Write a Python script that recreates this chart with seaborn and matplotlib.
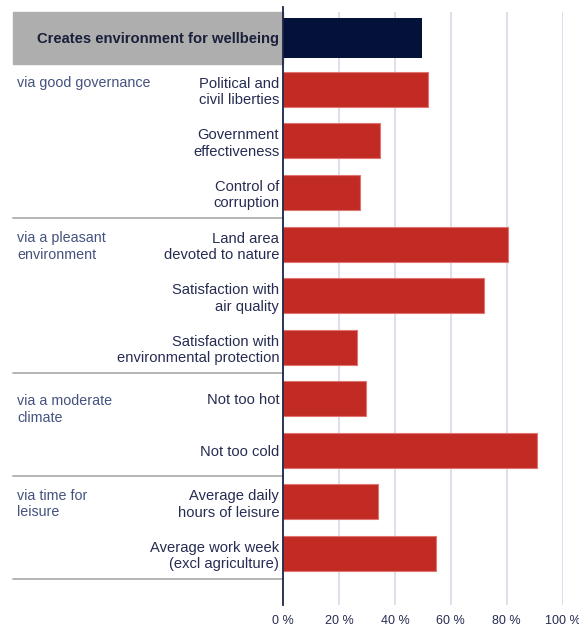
import matplotlib
matplotlib.use("Agg")
import matplotlib.pyplot as plt
import matplotlib.transforms as mtransforms
from matplotlib.patches import Rectangle
import seaborn as sns
import pandas as pd

# ==============
# DADOS
# ==============

rotulos = [
    "Creates environment for wellbeing",
    "Political and\ncivil liberties",
    "Government\neffectiveness",
    "Control of\ncorruption",
    "Land area\ndevoted to nature",
    "Satisfaction with\nair quality",
    "Satisfaction with\nenvironmental protection",
    "Not too hot",
    "Not too cold",
    "Average daily\nhours of leisure",
    "Average work week\n(excl agriculture)",
]
valores = [49.7, 51.7, 34.8, 27.5, 80.5, 71.9, 26.4, 29.7, 90.7, 34.0, 54.6]

grupos = ["via good governance", "via a pleasant\nenvironment",
          "via a moderate\nclimate", "via time for\nleisure"]
inicio_grupos = [1, 4, 7, 9]
fim_grupos = [3, 6, 8, 10]

ticks_x = [0, 20, 40, 60, 80, 100]
ticks_x_rotulos = ["0 %", "20 %", "40 %", "60 %", "80 %", "100 %"]

# ==============
# ESTILO
# ==============

AZUL_ESCURO = "#04123A"
VERMELHO = "#C22A24"
TEXTO = "#262C52"
TEXTO_GRUPO = "#44527E"
GRADE = "#DADDEB"
SEPARADOR = "#B4B4B4"

sns.set_theme(style="white")
plt.rcParams["font.family"] = ["Liberation Sans", "DejaVu Sans"]

W, H = 579, 629
fig = plt.figure(figsize=(W / 100, H / 100), dpi=100)
ax = fig.add_axes([283.3 / W, 1 - 605 / H, (562.5 - 283.3) / W, (605 - 12) / H])

df = pd.DataFrame({"rotulo": rotulos, "valor": valores})
topo = df.iloc[:1]
resto = df.iloc[1:]

sns.barplot(data=topo, x="valor", y="rotulo", order=rotulos, color=AZUL_ESCURO,
            width=0.78, orient="h", ax=ax, saturation=1, linewidth=0)
sns.barplot(data=resto, x="valor", y="rotulo", order=rotulos, color=VERMELHO,
            width=0.68, orient="h", ax=ax, saturation=1,
            edgecolor="#E07470", linewidth=0.8)

ax.set_xlim(0, 100)
ax.set_ylim(len(rotulos), -0.5)
ax.set_xlabel("")
ax.set_ylabel("")

# Grade vertical
for v in ticks_x[1:]:
    ax.axvline(v, color=GRADE, lw=1.3, zorder=0)

ax.set_xticks(ticks_x)
ax.set_xticklabels(ticks_x_rotulos, fontsize=9, color=TEXTO)
ax.tick_params(axis="x", length=0, pad=7)
ax.tick_params(axis="y", length=0, pad=3)
ax.set_yticks(range(len(rotulos)))
ax.set_yticklabels(rotulos, fontsize=10.6, color=TEXTO, linespacing=1.22)
ax.get_yticklabels()[0].set_fontweight("bold")
ax.get_yticklabels()[0].set_color("#1A1F3A")

for lado in ["top", "right", "bottom"]:
    ax.spines[lado].set_visible(False)
ax.spines["left"].set_color("#1A2448")
ax.spines["left"].set_linewidth(1.3)
ax.spines["left"].set_bounds(len(rotulos), -0.6)

# Painel esquerdo (coordenadas x da figura, y dos dados)
trans = mtransforms.blended_transform_factory(fig.transFigure, ax.transData)
x0 = 13 / W
x1 = 283.3 / W

ax.add_patch(Rectangle((x0, -0.5), x1 - x0, 1.0, transform=trans,
                       color="#AEAEAE", clip_on=False, zorder=0))

for g, ini, fim in zip(grupos, inicio_grupos, fim_grupos):
    nlinhas = rotulos[ini].count("\n") + 1
    ax.text(17 / W, ini - 0.16 * (nlinhas - 1) - 0.09, g, transform=trans,
            ha="left", va="top", fontsize=10.3, color=TEXTO_GRUPO,
            linespacing=1.22, clip_on=False)
    ax.plot([x0, x1], [fim + 0.5, fim + 0.5], transform=trans,
            color=SEPARADOR, lw=1.4, clip_on=False)

fig.savefig("out.png", dpi=100)
